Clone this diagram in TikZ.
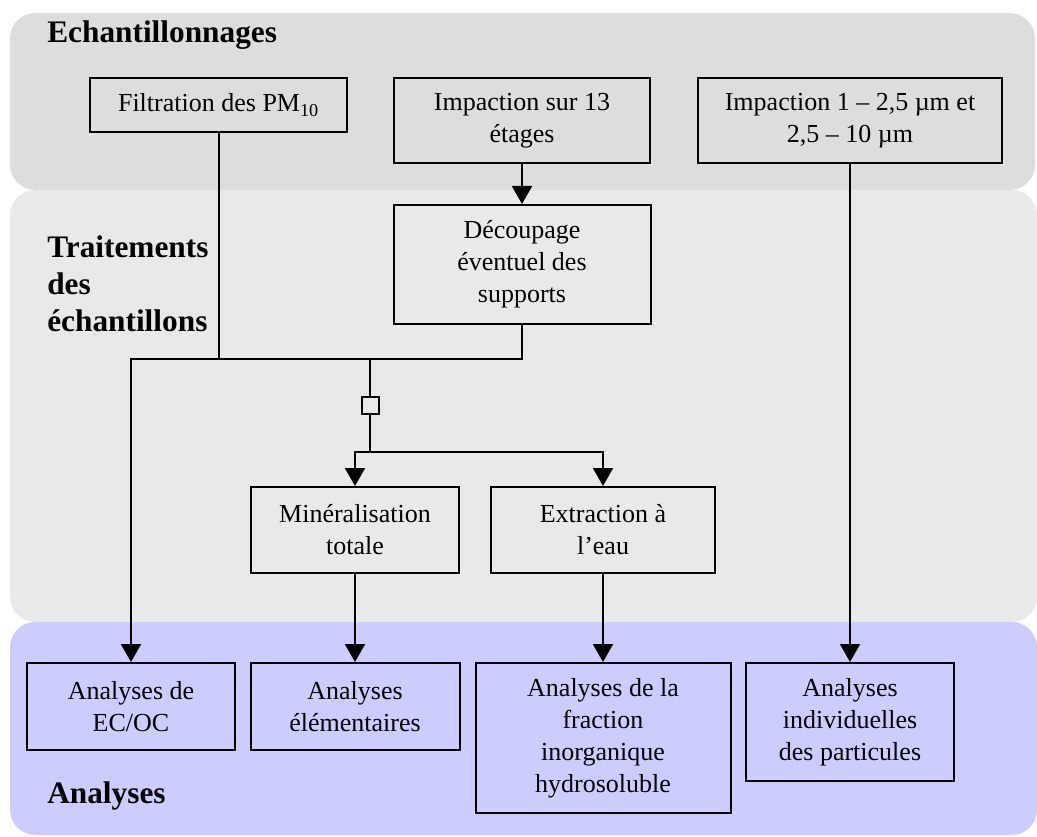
\documentclass[tikz,border=0pt]{standalone}
\usepackage{fontspec}
\setmainfont{Liberation Serif}
\usepackage{tikz}
\usetikzlibrary{positioning,arrows.meta}
\definecolor{bandtop}{HTML}{DDDDDD}
\definecolor{bandmid}{HTML}{E9E9E9}
\definecolor{bandbot}{HTML}{CCCCFF}

\begin{document}
\begin{tikzpicture}[x=0.75pt,y=-0.75pt,
    box/.style={draw, line width=1.5pt, align=center, inner sep=0pt,
        font=\fontsize{19.5pt}{24pt}\selectfont},
    band/.style={rounded corners=19pt},
    title/.style={anchor=base west, align=left, inner sep=0pt,
        font=\fontsize{23.5pt}{28pt}\selectfont\bfseries},
    line/.style={line width=1.5pt},
    arr/.style={line, -{Triangle[length=13.5pt,width=15pt]}}]
        \useasboundingbox (0,0) rectangle (1037,837);
        % background bands
        \fill[bandtop, band] (10,13) rectangle (1035,190);
        \fill[bandmid, band] (10,190) rectangle (1037,622);
        \fill[bandbot, band] (10,622) rectangle (1037,835);
        \node[title] (t_ech) at (47,43) {Echantillonnages};
        % base anchor sits on the last line here
        \node[title] (t_trt) at (47,332) {Traitements\\des\\échantillons};
        \node[title] (t_ana) at (47,803) {Analyses};

        % sampling
        \node[box, minimum width=192.75pt, minimum height=40.5pt] (filt) at (218.5,105) {Filtration des PM\textsubscript{10}};
        \node[box, minimum width=192pt, minimum height=63.75pt] (imp13) at (522,120.5) {Impaction sur 13\\étages};
        \node[box, minimum width=228pt, minimum height=63.75pt] (imp25) at (850,120.5) {Impaction 1 -- 2,5 µm et\\2,5 -- 10 µm};

        % treatments
        \node[box, minimum width=192.75pt, minimum height=89.25pt] (dec) at (522,264.5) {Découpage\\éventuel des\\supports};
        \node[box, minimum width=156pt, minimum height=64.5pt] (mine) at (355,530) {Minéralisation\\totale};
        \node[box, minimum width=168pt, minimum height=64.5pt] (extr) at (603,530) {Extraction à\\l’eau};

        % analyses
        \node[box, minimum width=156pt, minimum height=65.25pt] (ecoc) at (131,706.5) {Analyses de\\EC/OC};
        \node[box, minimum width=156.75pt, minimum height=65.25pt] (elem) at (355,706.5) {Analyses\\élémentaires};
        \node[box, minimum width=191.25pt, minimum height=112.5pt] (frac) at (603,738) {Analyses de la\\fraction\\inorganique\\hydrosoluble};
        \node[box, minimum width=156pt, minimum height=88.5pt] (indiv) at (850,722) {Analyses\\individuelles\\des particules};

        % connectors
        \coordinate (jn) at (370,359.3);
        \coordinate (sp) at (370,451.7);
        \node[draw, line width=1.5pt, minimum size=12.75pt, inner sep=0pt] (sq) at (370,405.5) {};
        \draw[line] (filt.south) -- (filt.south |- jn);
        \draw[arr] (dec.south) |- (ecoc.north |- jn) -- (ecoc.north);
        \draw[line] (jn) -- (sq.north);
        \draw[line] (sq.south) -- (sp);
        \foreach \nd in {mine,extr}{
            \draw[arr] (sp) -| (\nd.north);
        }
        \foreach \src/\dst in {imp13/dec, imp25/indiv, mine/elem, extr/frac}{
            \draw[arr] (\src.south) -- (\dst.north);
        }
\end{tikzpicture}
\end{document}
